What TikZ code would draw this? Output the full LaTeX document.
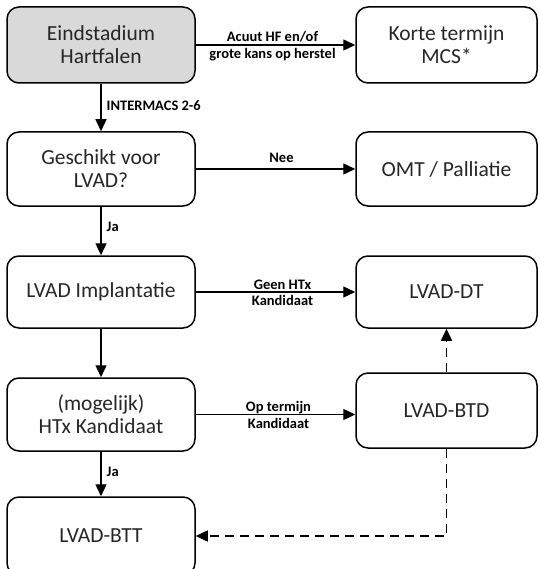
\documentclass[tikz,border=0pt]{standalone}
\usepackage{fontspec}
\setmainfont{Carlito}
\usetikzlibrary{arrows.meta}
\definecolor{boxgray}{HTML}{D9D9D9}
\begin{document}
\begin{tikzpicture}[x=1pt,y=-1pt,
  box/.style={draw=black, line width=1.5pt, rounded corners=12pt, align=center,
    font=\fontsize{21.5}{23}\selectfont, text=black!85, inner sep=0pt},
  lcol/.style={box, minimum width=188pt},
  rcol/.style={box, minimum width=181pt},
  arr/.style={-{Triangle[length=12pt,width=11pt]}, line width=1.4pt},
  darr/.style={arr, line width=1.5pt, dash pattern=on 9pt off 6pt},
  lbl/.style={font=\bfseries\fontsize{14.5}{15}\selectfont, text=black, inner sep=0pt}
]
\useasboundingbox (0,0) rectangle (539,569);
\clip (0,0) rectangle (539,569);

\node[lcol, fill=boxgray, minimum height=76pt] (eind) at (101,45) {Eindstadium\\Hartfalen};
\node[rcol, minimum height=76pt] (korte) at (446.5,45) {Korte termijn\\MCS*};
\node[lcol, minimum height=74pt] (gesch) at (101,169) {Geschikt voor\\LVAD?};
\node[rcol, minimum height=74pt] (omt) at (446.5,169) {OMT / Palliatie};
\node[lcol, minimum height=72pt] (impl) at (101,292) {LVAD Implantatie};
\node[rcol, minimum height=72pt] (dt) at (446.5,292) {LVAD-DT};
\node[lcol, minimum height=73pt] (htx) at (101,414.5) {(mogelijk)\\HTx Kandidaat};
\node[rcol, minimum height=75pt] (btd) at (446.5,410.5) {LVAD-BTD};
\node[lcol, minimum height=78pt] (btt) at (101,536) {LVAD-BTT};

\draw[arr] (eind) -- (korte)
  node[lbl, pos=.5, anchor=base, yshift=3pt, xshift=-3pt] {Acuut HF en/of}
  node[lbl, pos=.5, anchor=north, yshift=-3pt, xshift=-3pt] {grote kans op herstel};
\draw[arr] (gesch) -- (omt)
  node[lbl, pos=.5, anchor=base, yshift=6pt, xshift=6pt] {Nee};
\draw[arr] (impl) -- (dt)
  node[lbl, pos=.5, anchor=base, yshift=3pt, xshift=7pt] {Geen HTx}
  node[lbl, pos=.5, anchor=north, yshift=-3pt, xshift=7pt] {Kandidaat};
\draw[arr] (htx.east) -- (htx.east -| btd.west)
  node[lbl, pos=.5, anchor=base, yshift=3pt, xshift=3pt] {Op termijn}
  node[lbl, pos=.5, anchor=north, yshift=-3pt, xshift=3pt] {Kandidaat};

\draw[arr] (eind) -- (gesch)
  node[lbl, pos=.5, anchor=west, xshift=5pt, yshift=2pt] {INTERMACS 2-6};
\draw[arr] (gesch) -- (impl)
  node[lbl, pos=.5, anchor=west, xshift=5pt, yshift=4pt] {Ja};
\draw[arr] (impl) -- (htx);
\draw[arr] (htx) -- (btt)
  node[lbl, pos=.5, anchor=west, xshift=5pt, yshift=2pt] {Ja};

\draw[darr] (btd) -- (dt);
\draw[darr] (btd.south) |- (btt.east);
\end{tikzpicture}
\end{document}
